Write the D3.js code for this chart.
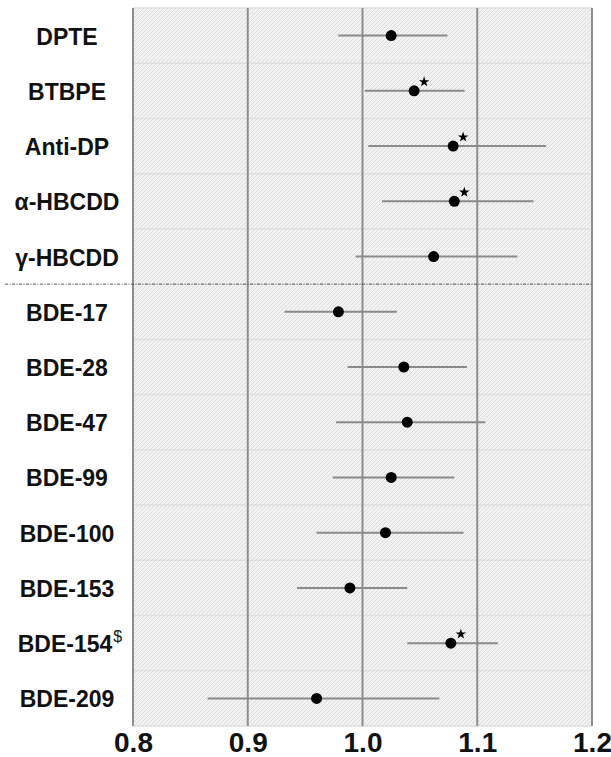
<!DOCTYPE html>
<html>
<head>
<meta charset="utf-8">
<script src="https://cdn.jsdelivr.net/npm/d3@7"></script>
<style>
  body { margin: 0; background: #fff; }
  svg { display: block; }
</style>
</head>
<body>
<div id="chart"><svg></svg></div>
<script>
// chart data
var compounds = ['DPTE', 'BTBPE', 'Anti-DP', 'α-HBCDD', 'γ-HBCDD',
    'BDE-17', 'BDE-28', 'BDE-47', 'BDE-99', 'BDE-100', 'BDE-153', 'BDE-154', 'BDE-209'];
var estimate = [1.025, 1.045, 1.079, 1.080, 1.062, 0.979, 1.036, 1.039, 1.025, 1.020, 0.989, 1.077, 0.960];
var lower    = [0.979, 1.002, 1.005, 1.017, 0.994, 0.932, 0.987, 0.977, 0.974, 0.960, 0.943, 1.039, 0.865];
var upper    = [1.074, 1.089, 1.160, 1.149, 1.135, 1.030, 1.091, 1.107, 1.080, 1.088, 1.039, 1.118, 1.067];
var starred  = ['BTBPE', 'Anti-DP', 'α-HBCDD', 'BDE-154'];
var dollar   = ['BDE-154'];
var xTicks   = [0.8, 0.9, 1.0, 1.1, 1.2];
var splitAfter = 'γ-HBCDD';

var W = 611, H = 757;
// plot panel edges (note: "top" is taken by window.top)
var pLeft = 133, pRight = 592, pTop = 8, pBottom = 726;

var svg = d3.select('#chart').select('svg')
    .attr('width', W)
    .attr('height', H);

var x = d3.scaleLinear().domain([0.8, 1.2]).range([pLeft, pRight]);
var y = d3.scaleBand().domain(compounds).range([pTop, pBottom]).padding(0);

// hatched panel background
var pat = svg.append('defs').append('pattern')
    .attr('id', 'hatch')
    .attr('patternUnits', 'userSpaceOnUse')
    .attr('width', 4).attr('height', 4);
pat.append('rect').attr('width', 4).attr('height', 4).attr('fill', '#f2f2f2');
pat.append('path')
    .attr('d', 'M-1,1 l2,-2 M0,4 l4,-4 M3,5 l2,-2')
    .attr('stroke', '#d8d8d8')
    .attr('stroke-width', 0.8);

svg.append('rect')
    .attr('x', pLeft).attr('y', pTop)
    .attr('width', pRight - pLeft).attr('height', pBottom - pTop)
    .attr('fill', 'url(#hatch)');

// row separators
svg.append('g').selectAll('line')
    .data(compounds)
    .enter().append('line')
    .attr('x1', pLeft).attr('x2', pRight)
    .attr('y1', function (d) { return y(d); })
    .attr('y2', function (d) { return y(d); })
    .attr('stroke', '#dedede')
    .attr('stroke-width', 1.5);
svg.append('line')
    .attr('x1', pLeft).attr('x2', pRight)
    .attr('y1', pBottom).attr('y2', pBottom)
    .attr('stroke', '#dedede')
    .attr('stroke-width', 1.5);

// vertical grid lines
svg.append('g').selectAll('line')
    .data(xTicks)
    .enter().append('line')
    .attr('x1', function (d) { return x(d); })
    .attr('x2', function (d) { return x(d); })
    .attr('y1', pTop).attr('y2', pBottom)
    .attr('stroke', '#8e8e8e')
    .attr('stroke-width', 2);

// dash-dot separator between groups
var ySplit = y(splitAfter) + y.bandwidth();
svg.append('line')
    .attr('x1', 5).attr('x2', pRight)
    .attr('y1', ySplit).attr('y2', ySplit)
    .attr('stroke', '#555')
    .attr('stroke-width', 1)
    .attr('stroke-dasharray', '3,1.5,1,1.5');

// confidence intervals
var rows = compounds.map(function (c, i) {
    return { name: c, est: estimate[i], lo: lower[i], hi: upper[i] };
});
var cy = function (d) { return y(d.name) + y.bandwidth() / 2; };

svg.append('g').selectAll('line')
    .data(rows)
    .enter().append('line')
    .attr('x1', function (d) { return x(d.lo); })
    .attr('x2', function (d) { return x(d.hi); })
    .attr('y1', cy).attr('y2', cy)
    .attr('stroke', '#8a8a8a')
    .attr('stroke-width', 2);

svg.append('g').selectAll('circle')
    .data(rows)
    .enter().append('circle')
    .attr('cx', function (d) { return x(d.est); })
    .attr('cy', cy)
    .attr('r', 5.5)
    .attr('fill', '#000');

// significance stars
svg.append('g').selectAll('path')
    .data(rows.filter(function (d) { return starred.indexOf(d.name) >= 0; }))
    .enter().append('path')
    .attr('d', d3.symbol().type(d3.symbolStar).size(34))
    .attr('transform', function (d) {
        return 'translate(' + (x(d.est) + 10) + ',' + (cy(d) - 9) + ')';
    })
    .attr('fill', '#000');

// compound labels
var labels = svg.append('g').selectAll('text')
    .data(compounds)
    .enter().append('text')
    .attr('x', 67)
    .attr('y', function (d) { return y(d) + y.bandwidth() / 2 + 9; })
    .attr('text-anchor', 'middle')
    .style('font-family', '"Liberation Sans", Arial, sans-serif')
    .style('font-weight', 'bold')
    .style('font-size', '23px')
    .style('fill', '#111');
labels.append('tspan').text(function (d) { return d; });
labels.filter(function (d) { return dollar.indexOf(d) >= 0; })
    .attr('x', 70)
    .append('tspan')
    .attr('dx', 1)
    .attr('dy', -10)
    .style('font-weight', 'normal')
    .style('font-size', '16px')
    .text('$');

// x axis
var xAxis = d3.axisBottom(x)
    .tickValues(xTicks)
    .tickSize(0)
    .tickPadding(6)
    .tickFormat(d3.format('.1f'));

var gx = svg.append('g')
    .attr('transform', 'translate(0,' + pBottom + ')')
    .call(xAxis);
gx.select('.domain').remove();
gx.selectAll('text')
    .style('font-family', '"Liberation Sans", Arial, sans-serif')
    .style('font-weight', 'bold')
    .style('font-size', '28px')
    .style('fill', '#111');
</script>
</body>
</html>
